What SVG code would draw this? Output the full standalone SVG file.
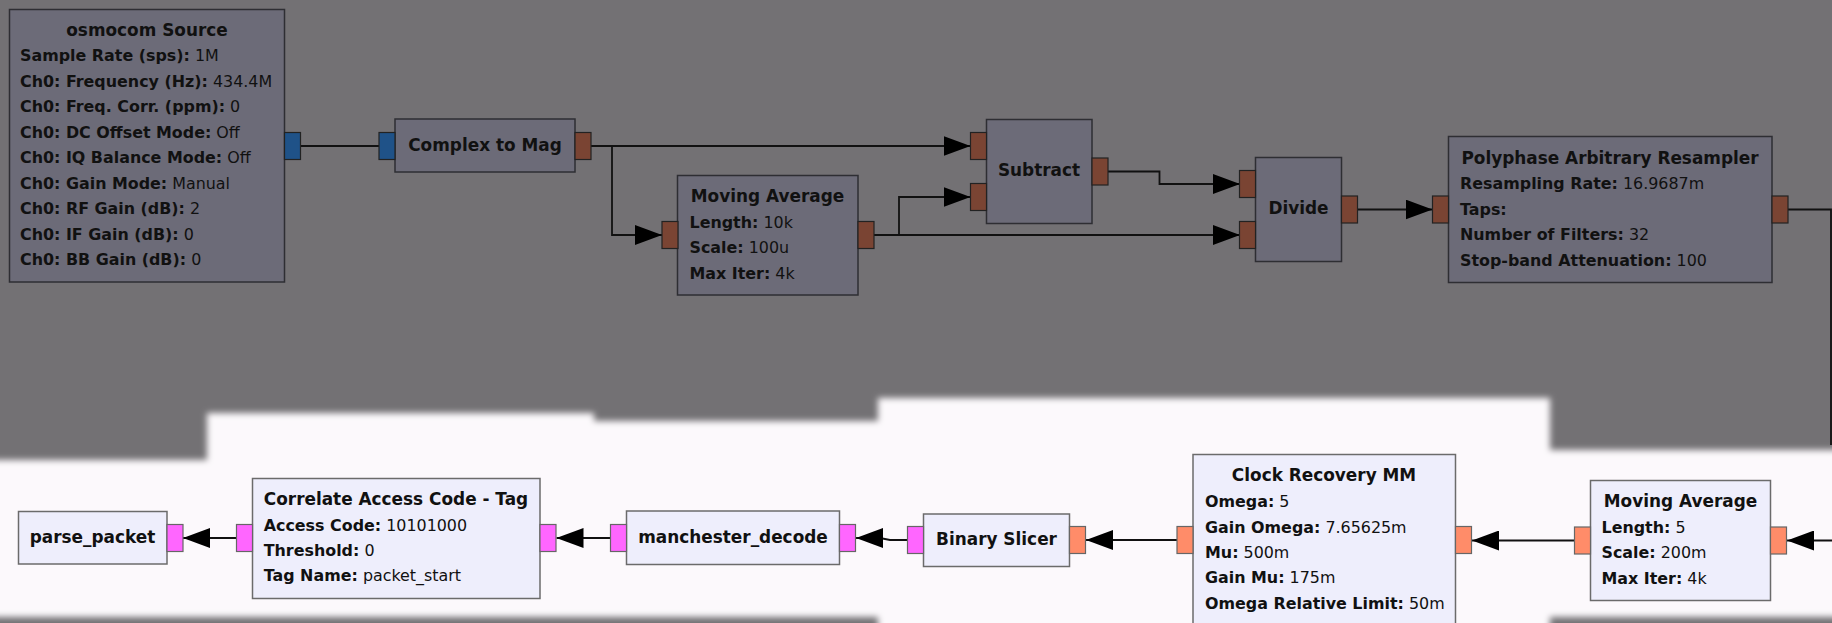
<svg xmlns="http://www.w3.org/2000/svg" width="1832" height="623" viewBox="0 0 1832 623">
<style>
.t{font-family:"DejaVu Sans","Liberation Sans",sans-serif;font-size:15.9px;fill:#111}
.h{font-weight:bold;font-size:16.9px}
.b{font-weight:bold}
.m{text-anchor:middle}
.bd{fill:#6c6b78;stroke:#2e2e33;stroke-width:1.5}
.bl{fill:#eeeefc;stroke:#6b6b6b;stroke-width:1.5}
.pc{fill:#1f5288;stroke:#222;stroke-width:1.2}
.pf{fill:#7a4433;stroke:#222;stroke-width:1.2}
.pb{fill:#ff66ff;stroke:#666;stroke-width:1.2}
.po{fill:#ff8c69;stroke:#666;stroke-width:1.2}
.w{stroke:#111;stroke-width:1.8;fill:none;marker-end:url(#ah)}
.wn{stroke:#111;stroke-width:1.8;fill:none}
</style>
<defs>
<marker id="ah" markerUnits="userSpaceOnUse" viewBox="0 0 27 20" markerWidth="27" markerHeight="20" refX="27" refY="10" orient="auto">
<path d="M0,0 L27,10 L0,20 z" fill="#000"/>
</marker>
<filter id="soft" x="-5%" y="-20%" width="110%" height="140%">
<feGaussianBlur stdDeviation="3"/>
</filter>
</defs>
<rect x="0" y="0" width="1832" height="623" fill="#737174"/>
<path d="M-10,460 H207 V413 H594 V421 H878 V398 H1550 V450 H1842 V617 H1550 V640 H878 V617 H-10 Z" fill="#fcf9fc" filter="url(#soft)"/>

<g id="connectors">
<path class="w" d="M300.5,146 H970.5"/>
<path class="w" d="M612,146 V235 H662"/>
<path class="w" d="M874,235 H1240"/>
<path class="w" d="M899,235 V197 H970.5"/>
<path class="w" d="M1108,171.5 H1159.5 V184 H1240"/>
<path class="w" d="M1357.5,209.5 H1432.5"/>
<path class="wn" d="M1788,209.5 H1831 V445"/>
<path class="w" d="M236.5,538 H183"/>
<path class="w" d="M610,538 H556.5"/>
<path class="w" d="M907.5,540 H890 L880,538 H856"/>
<path class="w" d="M1177.3,540 H1086"/>
<path class="w" d="M1574.4,540.5 H1472"/>
<path class="w" d="M1834,540.5 H1787"/>
</g>

<g id="osmocom_source">
<rect class="bd" x="9.5" y="9.5" width="275" height="272.5"/>
<rect class="pc" x="284.5" y="132.5" width="16" height="27"/>
<text class="t h m" x="147" y="36">osmocom Source</text>
<text class="t" x="20" y="61.3"><tspan class="b">Sample Rate (sps):</tspan> 1M</text>
<text class="t" x="20" y="86.8"><tspan class="b">Ch0: Frequency (Hz):</tspan> 434.4M</text>
<text class="t" x="20" y="112.3"><tspan class="b">Ch0: Freq. Corr. (ppm):</tspan> 0</text>
<text class="t" x="20" y="137.8"><tspan class="b">Ch0: DC Offset Mode:</tspan> Off</text>
<text class="t" x="20" y="163.3"><tspan class="b">Ch0: IQ Balance Mode:</tspan> Off</text>
<text class="t" x="20" y="188.8"><tspan class="b">Ch0: Gain Mode:</tspan> Manual</text>
<text class="t" x="20" y="214.3"><tspan class="b">Ch0: RF Gain (dB):</tspan> 2</text>
<text class="t" x="20" y="239.8"><tspan class="b">Ch0: IF Gain (dB):</tspan> 0</text>
<text class="t" x="20" y="265.3"><tspan class="b">Ch0: BB Gain (dB):</tspan> 0</text>
</g>

<g id="complex_to_mag">
<rect class="bd" x="395" y="119" width="180" height="53"/>
<rect class="pc" x="379" y="132.5" width="16" height="27"/>
<rect class="pf" x="575" y="132.5" width="16" height="27"/>
<text class="t h m" x="485" y="150.5">Complex to Mag</text>
</g>

<g id="moving_average_1">
<rect class="bd" x="677.5" y="175.5" width="180.5" height="119.5"/>
<rect class="pf" x="662" y="221.5" width="16" height="27"/>
<rect class="pf" x="858" y="221.5" width="16" height="27"/>
<text class="t h m" x="767.5" y="202">Moving Average</text>
<text class="t" x="689.5" y="227.5"><tspan class="b">Length:</tspan> 10k</text>
<text class="t" x="689.5" y="253"><tspan class="b">Scale:</tspan> 100u</text>
<text class="t" x="689.5" y="278.5"><tspan class="b">Max Iter:</tspan> 4k</text>
</g>

<g id="subtract">
<rect class="bd" x="986.5" y="119.5" width="105.5" height="104"/>
<rect class="pf" x="970.5" y="132.5" width="16" height="27"/>
<rect class="pf" x="970.5" y="183.5" width="16" height="27"/>
<rect class="pf" x="1092" y="158" width="16" height="27"/>
<text class="t h m" x="1039" y="176.3">Subtract</text>
</g>

<g id="divide">
<rect class="bd" x="1255.5" y="157.5" width="86" height="104"/>
<rect class="pf" x="1239.5" y="170.5" width="16" height="27"/>
<rect class="pf" x="1239.5" y="221.5" width="16" height="27"/>
<rect class="pf" x="1341.5" y="196" width="16" height="27"/>
<text class="t h m" x="1298.5" y="214.3">Divide</text>
</g>

<g id="polyphase_resampler">
<rect class="bd" x="1448.5" y="136.5" width="323.5" height="146"/>
<rect class="pf" x="1432.5" y="196" width="16" height="27"/>
<rect class="pf" x="1772" y="196" width="16" height="27"/>
<text class="t h m" x="1610" y="163.7">Polyphase Arbitrary Resampler</text>
<text class="t" x="1460" y="189"><tspan class="b">Resampling Rate:</tspan> 16.9687m</text>
<text class="t" x="1460" y="214.5"><tspan class="b">Taps:</tspan></text>
<text class="t" x="1460" y="240"><tspan class="b">Number of Filters:</tspan> 32</text>
<text class="t" x="1460" y="265.5"><tspan class="b">Stop-band Attenuation:</tspan> 100</text>
</g>

<g id="parse_packet">
<rect class="bl" x="18.5" y="511.5" width="148.5" height="52.5"/>
<rect class="pb" x="167" y="524.5" width="16" height="27"/>
<text class="t h m" x="92.5" y="542.7">parse_packet</text>
</g>

<g id="correlate_access_code">
<rect class="bl" x="252.5" y="478.5" width="287.5" height="120"/>
<rect class="pb" x="236.5" y="524.5" width="16" height="27"/>
<rect class="pb" x="540" y="524.5" width="16" height="27"/>
<text class="t h m" x="396" y="505.3">Correlate Access Code - Tag</text>
<text class="t" x="263.7" y="530.5"><tspan class="b">Access Code:</tspan> 10101000</text>
<text class="t" x="263.7" y="556"><tspan class="b">Threshold:</tspan> 0</text>
<text class="t" x="263.7" y="581.3"><tspan class="b">Tag Name:</tspan> packet_start</text>
</g>

<g id="manchester_decode">
<rect class="bl" x="626.5" y="511" width="213" height="53.5"/>
<rect class="pb" x="610.5" y="524.5" width="16" height="27"/>
<rect class="pb" x="839.5" y="524.5" width="16" height="27"/>
<text class="t h m" x="733" y="542.7">manchester_decode</text>
</g>

<g id="binary_slicer">
<rect class="bl" x="923.5" y="514" width="146" height="52.5"/>
<rect class="pb" x="907.5" y="526.5" width="16" height="27"/>
<rect class="po" x="1069.5" y="526.5" width="16" height="27"/>
<text class="t h m" x="996.5" y="545.3">Binary Slicer</text>
</g>

<g id="clock_recovery_mm">
<rect class="bl" x="1193" y="454.5" width="262.5" height="180"/>
<rect class="po" x="1177" y="526.5" width="16" height="27"/>
<rect class="po" x="1455.5" y="526.5" width="16" height="27"/>
<text class="t h m" x="1324" y="481">Clock Recovery MM</text>
<text class="t" x="1205" y="506.7"><tspan class="b">Omega:</tspan> 5</text>
<text class="t" x="1205" y="532.5"><tspan class="b">Gain Omega:</tspan> 7.65625m</text>
<text class="t" x="1205" y="558.2"><tspan class="b">Mu:</tspan> 500m</text>
<text class="t" x="1205" y="583.3"><tspan class="b">Gain Mu:</tspan> 175m</text>
<text class="t" x="1205" y="608.7"><tspan class="b">Omega Relative Limit:</tspan> 50m</text>
</g>

<g id="moving_average_2">
<rect class="bl" x="1590.5" y="480.5" width="180" height="120"/>
<rect class="po" x="1574.5" y="527" width="16" height="27"/>
<rect class="po" x="1770.5" y="527" width="16" height="27"/>
<text class="t h m" x="1680.5" y="507">Moving Average</text>
<text class="t" x="1601.5" y="532.5"><tspan class="b">Length:</tspan> 5</text>
<text class="t" x="1601.5" y="558"><tspan class="b">Scale:</tspan> 200m</text>
<text class="t" x="1601.5" y="583.5"><tspan class="b">Max Iter:</tspan> 4k</text>
</g>
</svg>
